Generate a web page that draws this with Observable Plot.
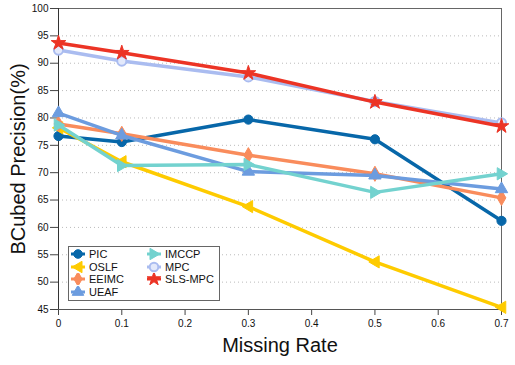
<!DOCTYPE html>
<html><head><meta charset="utf-8">
<script src="https://cdn.jsdelivr.net/npm/d3@7"></script>
<script src="https://cdn.jsdelivr.net/npm/@observablehq/plot@0.6"></script>
<style>
body{margin:0;background:#fff;font-family:"Liberation Sans",Arial,Helvetica,sans-serif;}
#wrap{position:relative;width:515px;height:365px;}
#legend{position:absolute;left:68px;top:246px;width:150px;height:53px;border:1.5px solid #666;background:#fff;}
.entry{position:absolute;display:flex;align-items:center;font-size:11px;color:#111;line-height:12px;}
.entry svg{margin-right:3px;}
</style></head><body><div id="wrap"></div><script>
const missingRates = [0, 0.1, 0.3, 0.5, 0.7];
const xTickLabels = ["0", "0.1", "0.2", "0.3", "0.4", "0.5", "0.6", "0.7"];
const xTicks = [0, 0.1, 0.2, 0.3, 0.4, 0.5, 0.6, 0.7];
const yTicks = [45, 50, 55, 60, 65, 70, 75, 80, 85, 90, 95, 100];
const seriesNames = ["PIC", "OSLF", "EEIMC", "UEAF", "IMCCP", "MPC", "SLS-MPC"];
const pic    = [76.7, 75.6, 79.7, 76.1, 61.2];
const oslf   = [78.2, 72.0, 63.8, 53.7, 45.4];
const eeimc  = [78.9, 77.1, 73.2, 69.8, 65.4];
const ueaf   = [80.9, 76.8, 70.2, 69.5, 67.0];
const imccp  = [78.7, 71.3, 71.5, 66.4, 69.8];
const mpc    = [92.4, 90.4, 87.5, 83.0, 79.1];
const slsmpc = [93.7, 91.9, 88.2, 82.9, 78.5];
const xLabel = "Missing Rate";
const yLabel = "BCubed Precision(%)";

const seriesValues = [pic, oslf, eeimc, ueaf, imccp, mpc, slsmpc];
const colors = ["#0767a9", "#fecb00", "#f98c5c", "#6c9cdf", "#73d2cf", "#aabcf0", "#ec3425"];

// custom symbols
const triLeft = {draw(ctx, size){ const r = Math.sqrt(size) * 0.75; ctx.moveTo(-r, 0); ctx.lineTo(r * 0.7, -r); ctx.lineTo(r * 0.7, r); ctx.closePath(); }};
const triRight = {draw(ctx, size){ const r = Math.sqrt(size) * 0.75; ctx.moveTo(r, 0); ctx.lineTo(-r * 0.7, -r); ctx.lineTo(-r * 0.7, r); ctx.closePath(); }};
const symbols = [d3.symbolCircle, triLeft, d3.symbolDiamond, d3.symbolTriangle, triRight, d3.symbolCircle, d3.symbolStar];
const radii = [4.6, 4.6, 4.6, 4.6, 4.6, 4.6, 4.6];
const fills = [colors[0], colors[1], colors[2], colors[3], colors[4], "#e3e9fb", colors[6]];

const marks = [
  Plot.gridY(yTicks.slice(1, -1), {stroke: "#bbb", strokeOpacity: 1, strokeDasharray: "1,3"}),
  Plot.frame({stroke: "#666"}),
  Plot.axisY(yTicks, {tickSize: 8, tickPadding: 2, fontSize: 10, label: null, stroke: "#444"}),
  Plot.axisX(xTicks, {tickSize: 6, tickPadding: 4, fontSize: 10, label: null, stroke: "#444", tickFormat: (d, i) => xTickLabels[i]}),
  Plot.ruleX([0], {stroke: "#333"}),
  Plot.ruleY([45], {stroke: "#555"}),
  Plot.text([yLabel], {text: d => d, frameAnchor: "left", textAnchor: "middle", rotate: -90, dx: -40, fontSize: 20, fill: "#111"}),
  Plot.text([xLabel], {text: d => d, frameAnchor: "bottom", textAnchor: "middle", dy: 42, fontSize: 20, fill: "#111"})
];
seriesNames.forEach((name, k) => {
  const rows = missingRates.map((m, i) => ({x: m, y: seriesValues[k][i]}));
  marks.push(Plot.line(rows, {x: "x", y: "y", stroke: colors[k], strokeWidth: 3.5}));
  marks.push(Plot.dot(rows, {x: "x", y: "y", symbol: symbols[k], r: radii[k], fill: fills[k], stroke: colors[k], strokeWidth: k === 5 ? 2 : 1}));
});

const chart = Plot.plot({
  width: 515, height: 365,
  marginLeft: 58, marginRight: 14, marginTop: 8, marginBottom: 56,
  style: {fontFamily: "'Liberation Sans', Arial, Helvetica, sans-serif", background: "#fff", color: "#111"},
  x: {domain: [0, 0.7]},
  y: {domain: [45, 100]},
  marks
});
const wrap = document.getElementById("wrap");
wrap.appendChild(chart);

// legend
const legend = document.createElement("div");
legend.id = "legend";
seriesNames.forEach((name, k) => {
  const col = k < 4 ? 0 : 1, row = k < 4 ? k : k - 4;
  const e = document.createElement("div");
  e.className = "entry";
  e.style.left = (1 + col * 76) + "px";
  e.style.top = (1 + row * 12.6) + "px";
  const r = 4.3;
  const path = d3.symbol(symbols[k], Math.PI * r * r)();
  e.innerHTML = `<svg width="16" height="12" viewBox="-8 -6 16 12"><line x1="-7" x2="7" y1="0" y2="0" stroke="${colors[k]}" stroke-width="3"/><path d="${path}" fill="${fills[k]}" stroke="${colors[k]}" stroke-width="${k === 5 ? 2 : 1}"/></svg><span>${name}</span>`;
  legend.appendChild(e);
});
wrap.appendChild(legend);
</script></body></html>
